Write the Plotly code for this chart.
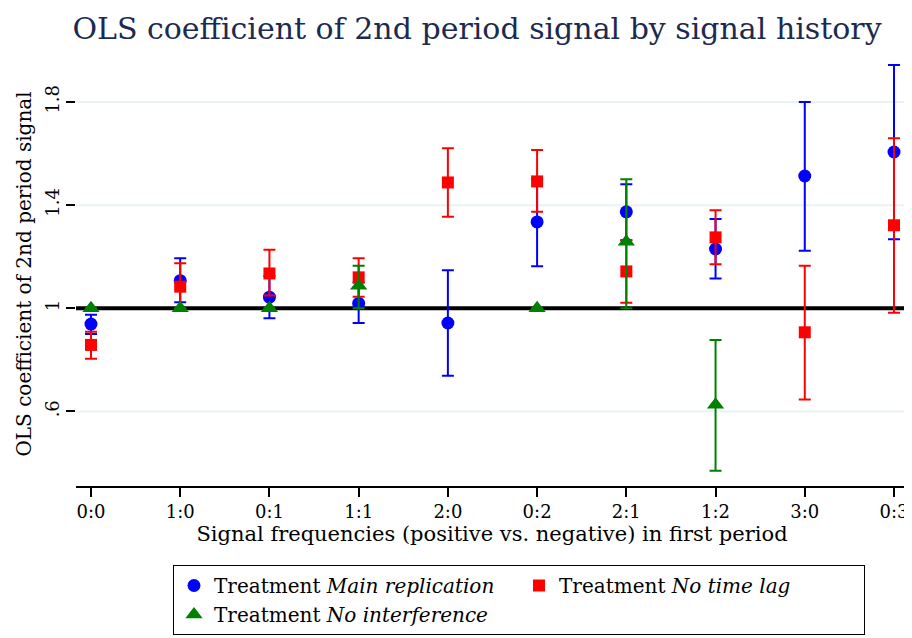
import plotly.graph_objects as go

# Signal history categories (positive:negative in first period)
categories = ['0:0', '1:0', '0:1', '1:1', '2:0', '0:2', '2:1', '1:2', '3:0', '0:3']

# Treatment "Main replication"
main_coef = [0.939, 1.107, 1.043, 1.019, 0.943, 1.335, 1.374, 1.230, 1.513, 1.606]
main_lo = [0.900, 1.023, 0.961, 0.943, 0.738, 1.163, 1.264, 1.116, 1.223, 1.268]
main_hi = [0.975, 1.194, 1.125, 1.100, 1.148, 1.500, 1.481, 1.346, 1.800, 1.943]

# Treatment "No time lag"
lag_coef = [0.858, 1.084, 1.135, 1.120, 1.488, 1.492, 1.143, 1.275, 0.907, 1.322]
lag_lo = [0.804, 0.995, 1.050, 1.045, 1.355, 1.374, 1.022, 1.171, 0.646, 0.983]
lag_hi = [0.909, 1.175, 1.227, 1.194, 1.621, 1.614, 1.264, 1.380, 1.165, 1.659]

# Treatment "No interference"
intf_coef = [1.0, 1.0, 1.0, 1.087, None, 1.0, 1.258, 0.626, None, None]
intf_lo = [1.0, 1.0, 1.0, 1.000, None, 1.0, 1.000, 0.370, None, None]
intf_hi = [1.0, 1.0, 1.0, 1.165, None, 1.0, 1.500, 0.877, None, None]

y_ticks = [0.6, 1.0, 1.4, 1.8]
y_ticktext = ['.6', '1', '1.4', '1.8']
ref_value = 1.0

SERIF = "DejaVu Serif, serif"
W, H = 904, 630  # page body adds an 8px margin


def err(coef, lo, hi):
    up = [None if c is None else h - c for c, h in zip(coef, hi)]
    down = [None if c is None else c - l for c, l in zip(coef, lo)]
    return up, down


fig = go.Figure()

series = [
    ('Treatment <i>Main replication</i>', main_coef, main_lo, main_hi, 'blue', 'circle', 13),
    ('Treatment <i>No time lag</i>', lag_coef, lag_lo, lag_hi, 'red', 'square', 12),
    ('Treatment <i>No interference</i>', intf_coef, intf_lo, intf_hi, 'green', 'triangle-up', 15),
]

for name, coef, lo, hi, color, symbol, size in series:
    up, down = err(coef, lo, hi)
    fig.add_trace(go.Scatter(
        x=categories,
        y=coef,
        mode='markers',
        name=name,
        marker=dict(color=color, symbol=symbol, size=size, line=dict(width=0)),
        error_y=dict(type='data', symmetric=False, array=up, arrayminus=down,
                     color=color, thickness=2, width=6),
    ))

# light grid lines (except at the reference value) and the thick line at 1
for v in y_ticks:
    if v != ref_value:
        fig.add_hline(y=v, line_width=2, line_color='#eaf2f3', layer='below')
fig.add_hline(y=ref_value, line_width=4, line_color='black', layer='below')

fig.update_layout(
    width=W,
    height=H,
    margin=dict(l=68, r=4, t=54, b=151),
    plot_bgcolor='white',
    paper_bgcolor='white',
    font=dict(family=SERIF, color='black', size=18),
    title=dict(
        text='OLS coefficient of 2nd period signal by signal history',
        font=dict(family=SERIF, size=30, color='#1c2a4f'),
        x=469 / W, xanchor='center', y=1 - 20 / H, yanchor='middle',
    ),
    xaxis=dict(
        type='category',
        range=[-0.168, 9.157],
        automargin=False,
        showline=True, linecolor='black', linewidth=1.5,
        ticks='outside', ticklen=9, tickwidth=1.5, tickcolor='black',
        showgrid=False, zeroline=False,
        tickfont=dict(size=18),
        title=dict(text='Signal frequencies (positive vs. negative) in first period',
                   font=dict(size=21), standoff=3),
    ),
    yaxis=dict(
        range=[0.311, 1.955],
        automargin=False,
        tickvals=y_ticks, ticktext=y_ticktext, tickangle=-90,
        showline=False, zeroline=False,
        ticks='outside', ticklen=9, tickwidth=1.5, tickcolor='black',
        showgrid=False,
        tickfont=dict(size=18),
        title=dict(text='OLS coefficient of 2nd period signal', font=dict(size=20), standoff=4),
    ),
    legend=dict(
        orientation='h',
        x=(165 - 68) / 832, xanchor='left',
        y=-(565 - 487) / 425, yanchor='top',
        bordercolor='black', borderwidth=1,
        font=dict(size=20),
        entrywidth=300,
        itemwidth=30,
        tracegroupgap=0,
    ),
)

fig.write_html("out.html")
